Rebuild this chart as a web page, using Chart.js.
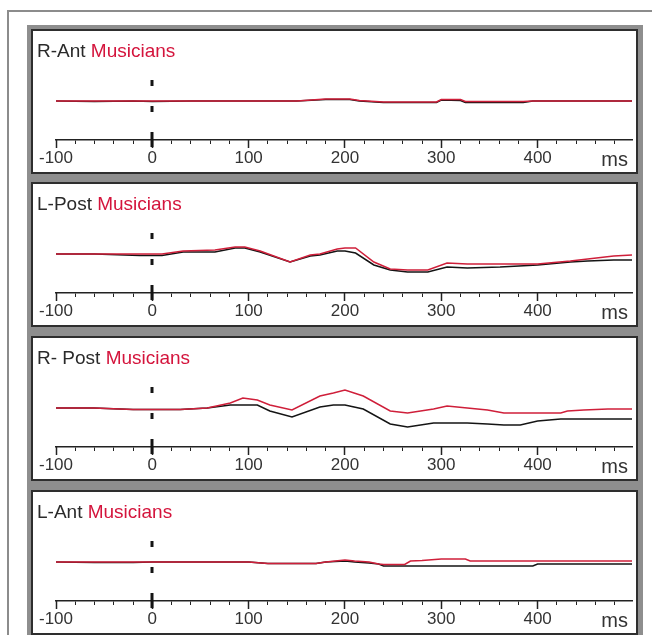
<!DOCTYPE html>
<html>
<head>
<meta charset="utf-8">
<title>Musicians ERP</title>
<script src="https://cdn.jsdelivr.net/npm/chart.js@4.4.1/dist/chart.umd.min.js"></script>
<style>
  html, body { margin: 0; padding: 0; background: #fff; }
  body { width: 652px; height: 635px; position: relative; overflow: hidden; font-family: Arial, "Liberation Sans", sans-serif; }
  #frame { position: absolute; left: 7px; top: 10px; width: 700px; height: 700px; border-left: 2px solid #8c8c8c; border-top: 2px solid #8c8c8c; }
  #stack { position: absolute; left: 27px; top: 25px; width: 616px; height: 640px; background: #8e8e8e; }
  .panel { position: absolute; left: 31px; width: 607px; height: 145px; box-sizing: border-box; border: 2px solid #2e2e2e; background: #fff; }
  .panel canvas { position: absolute; left: 0; top: 0; }
  .title { position: absolute; left: 4px; top: 10px; font-size: 19px; line-height: 19px; color: #2a2a2a; background: #fff; white-space: nowrap; z-index: 2; }
  .title span { color: #d4143c; }
</style>
</head>
<body>
<div id="frame"></div>
<div id="stack"></div>

<script>
// Panel titles
const panelNames = ['R-Ant', 'L-Post', 'R- Post', 'L-Ant'];
const groupName = 'Musicians';

// x axis (ms)
const xMin = -100;
const xMax = 498;
const majorTicks = [-100, 0, 100, 200, 300, 400];
const unitTick = 480;
const unitLabel = 'ms';

// R-Ant
const rAntMs    = [-100, -60, -20, 0, 40, 100, 150, 180, 205, 215, 240, 295, 300, 320, 325, 385, 395, 440, 498];
const rAntRed   = [0, 0, 0, 0, 0, 0, 0, 2, 2, 0.5, -1, -1, 1.5, 1.5, -0.5, -0.5, 0, 0, 0];
const rAntBlack = [0, -0.5, 0, -0.5, 0, 0, 0, 1.5, 1.5, 0, -1.5, -1.5, 1, 0.5, -1.5, -1.5, 0, 0, 0];

// L-Post
const lPostMs    = [-100, -60, -13, 10, 32, 65, 86, 96, 112, 143, 164, 174, 192, 200, 211, 230, 247, 265, 286, 306, 327, 361, 400, 434, 452, 479, 498];
const lPostRed   = [0, 0, 0, 0, 3, 4, 7, 7, 3, -8, -1, 0, 5, 6, 6, -8, -15, -16, -16, -9, -10, -10, -10, -7, -5, -2, -1];
const lPostBlack = [0, 0, -1.5, -1.5, 2, 2, 6, 6, 2, -8, -2, -1, 3, 3, 1, -11, -16, -18, -18, -13, -14, -13, -11, -8, -7, -6, -6];

// R- Post
const rPostMs    = [-100, -61, -20, 29, 57, 81, 94, 109, 122, 145, 174, 188, 200, 219, 247, 265, 292, 306, 327, 348, 365, 382, 400, 424, 431, 448, 473, 498];
const rPostRed   = [0, 0, -1.5, -1.5, 0, 5, 10, 8, 3, -2, 12, 15, 18, 12, -3, -5, -1, 2, 0, -2, -5, -5, -5, -5, -3, -2, -1, -1];
const rPostBlack = [0, 0, -1.5, -1.5, 0, 3, 3, 3, -3, -9, 1, 3, 3, -1, -16, -19, -15, -15, -15, -16, -17, -17, -13, -11, -11, -11, -11, -11];

// L-Ant
const lAntMs    = [-100, -60, -20, 0, 100, 120, 170, 180, 190, 200, 210, 225, 235, 240, 262, 268, 280, 300, 325, 330, 395, 400, 498];
const lAntRed   = [0, 0, 0, 0, 0, -1.5, -1.5, 0, 1, 2, 1, 0, -2, -2.5, -2.5, 1, 1.5, 3, 3, 1, 1, 1, 1];
const lAntBlack = [0, -0.5, -0.5, 0, 0, -1.5, -1.5, 0, 0.5, 1, 0, -1, -2, -4, -4, -4, -4, -4, -4, -4, -4, -2, -2];

const RED = '#cf1f3a';
const BLACK = '#141414';
const AXIS = '#222';
const FONT = 'Arial, "Liberation Sans", sans-serif';

const panels = [
  { top: 29,  ms: rAntMs,  red: rAntRed,  black: rAntBlack },
  { top: 182, ms: lPostMs, red: lPostRed, black: lPostBlack },
  { top: 336, ms: rPostMs, red: rPostRed, black: rPostBlack },
  { top: 490, ms: lAntMs,  red: lAntRed,  black: lAntBlack }
];

const minorTicks = [];
for (let v = xMin; v < 500; v += 20) minorTicks.push(v);

// dashed stimulus-onset line at 0 ms, plus the long tick through the axis
const zeroLine = {
  id: 'zeroLine',
  afterDraw(chart){
    const ctx = chart.ctx;
    const x = Math.round(chart.scales.x.getPixelForValue(0));
    const axisY = chart.chartArea.bottom;
    ctx.save();
    ctx.strokeStyle = BLACK;
    ctx.lineWidth = 3;
    ctx.setLineDash([6, 20]);
    ctx.beginPath();
    ctx.moveTo(x, axisY - 28);
    ctx.lineTo(x, axisY - 90);
    ctx.stroke();
    ctx.setLineDash([]);
    ctx.beginPath();
    ctx.moveTo(x, axisY - 8);
    ctx.lineTo(x, axisY + 7);
    ctx.stroke();
    ctx.restore();
  }
};

function toPoints(ms, vals){
  return ms.map((t, i) => ({ x: t, y: vals[i] }));
}

function makePanel(p, i){
  const div = document.createElement('div');
  div.className = 'panel';
  div.style.top = p.top + 'px';
  const title = document.createElement('div');
  title.className = 'title';
  title.innerHTML = panelNames[i] + ' <span>' + groupName + '</span>';
  div.appendChild(title);
  const canvas = document.createElement('canvas');
  canvas.width = 603;
  canvas.height = 141;
  div.appendChild(canvas);
  document.body.appendChild(div);

  new Chart(canvas.getContext('2d'), {
    type: 'line',
    data: {
      datasets: [
        { data: toPoints(p.ms, p.red), borderColor: RED, borderWidth: 1.5, pointRadius: 0, tension: 0, xAxisID: 'x', yAxisID: 'y' },
        { data: toPoints(p.ms, p.black), borderColor: BLACK, borderWidth: 1.5, pointRadius: 0, tension: 0, xAxisID: 'x', yAxisID: 'y' }
      ]
    },
    options: {
      responsive: false,
      animation: false,
      devicePixelRatio: 1,
      layout: { padding: { left: 23, right: 4, top: 0, bottom: 0 } },
      plugins: { legend: { display: false }, tooltip: { enabled: false } },
      scales: {
        xMajor: {
          type: 'linear', position: 'bottom', weight: 0,
          min: xMin, max: xMax,
          afterBuildTicks: s => { s.ticks = majorTicks.map(v => ({ value: v })); },
          afterFit: s => { s.height = 0; },
          ticks: { display: false },
          border: { display: false },
          grid: { drawOnChartArea: false, tickLength: 8, tickWidth: 1.5, tickColor: AXIS }
        },
        x: {
          type: 'linear', position: 'bottom', weight: 1,
          min: xMin, max: xMax,
          afterBuildTicks: s => { s.ticks = minorTicks.map(v => ({ value: v })); },
          afterFit: s => { s.height = 32; },
          ticks: {
            autoSkip: false, maxRotation: 0, padding: 4, color: '#333',
            font: c => ({ family: FONT, size: (c.tick && c.tick.value === unitTick) ? 20 : 17 }),
            callback: v => majorTicks.includes(v) ? String(v) : (v === unitTick ? unitLabel : '')
          },
          border: { display: true, color: AXIS, width: 1.5 },
          grid: { drawOnChartArea: false, tickLength: 4, tickWidth: 1, tickColor: AXIS }
        },
        y: { display: false, min: -39, max: 70 }
      }
    },
    plugins: [zeroLine]
  });
}

panels.forEach(makePanel);
</script>
</body>
</html>
